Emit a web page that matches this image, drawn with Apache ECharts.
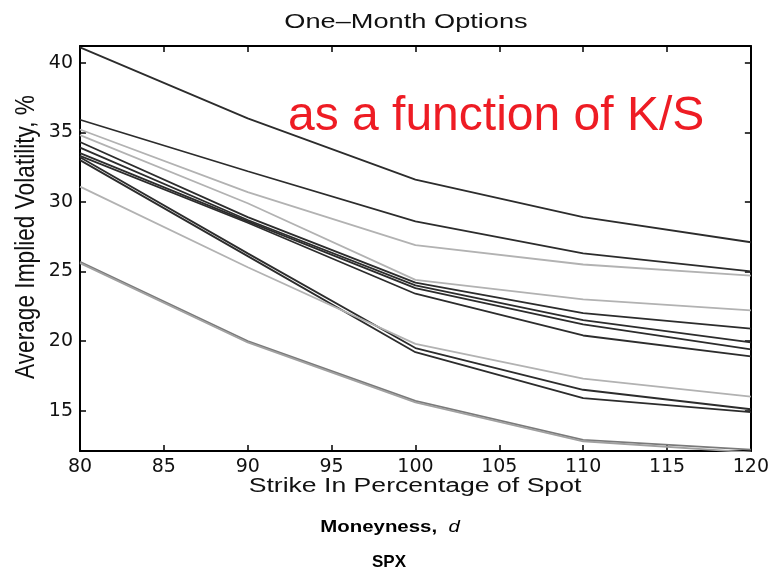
<!DOCTYPE html>
<html>
<head>
<meta charset="utf-8">
<title>One–Month Options</title>
<script src="https://cdn.jsdelivr.net/npm/echarts@6/dist/echarts.min.js"></script>
<style>
  html, body { margin: 0; padding: 0; background: #ffffff; }
  #chart { width: 772px; height: 572px; }
</style>
</head>
<body>
<div id="chart"></div>
<script>
// Strike levels (percentage of spot) and tick values
const strikes = [80, 90, 100, 110, 120];
const volTicks = [15, 20, 25, 30, 35, 40];

// Average implied volatility (%) for each one-month smile
const smileDark1 = [41.1, 36.0, 31.6, 28.9, 27.1];
const smileDark2 = [35.9, 32.2, 28.6, 26.3, 25.0];
const smileLight1 = [35.2, 30.7, 26.9, 25.5, 24.7];
const smileLight2 = [34.8, 29.9, 24.4, 23.0, 22.2];
const smileDark3 = [34.3, 28.9, 24.2, 22.0, 20.9];
const smileDark4 = [33.9, 28.7, 24.0, 21.5, 19.9];
const smileDark5 = [33.5, 28.6, 23.8, 21.2, 19.4];
const smileDark6 = [33.3, 28.5, 23.4, 20.4, 18.9];
const smileDark7 = [33.2, 26.3, 19.5, 16.5, 15.1];
const smileDark8 = [33.0, 26.1, 19.2, 15.9, 14.9];
const smileLight3 = [31.1, 25.3, 19.8, 17.3, 16.0];
const smileGrey1 = [25.7, 20.0, 15.7, 12.9, 12.2];
const smileGrey2 = [25.6, 19.9, 15.6, 12.8, 12.0];

const DARK = '#2c2c2c';
const LIGHT = '#b2b2b2';

const smiles = [
  { name: 'd1', values: smileDark1, color: DARK },
  { name: 'd2', values: smileDark2, color: DARK },
  { name: 'l1', values: smileLight1, color: LIGHT },
  { name: 'l2', values: smileLight2, color: LIGHT },
  { name: 'd3', values: smileDark3, color: DARK },
  { name: 'd4', values: smileDark4, color: DARK },
  { name: 'd5', values: smileDark5, color: DARK },
  { name: 'd6', values: smileDark6, color: DARK },
  { name: 'd7', values: smileDark7, color: DARK },
  { name: 'd8', values: smileDark8, color: DARK },
  { name: 'l3', values: smileLight3, color: LIGHT },
  { name: 'g1', values: smileGrey1, color: '#7a7a7a' },
  { name: 'g2', values: smileGrey2, color: '#a0a0a0' }
];

const chart = echarts.init(document.getElementById('chart'), null, { renderer: 'canvas' });

const frameLine = { show: true, onZero: false, lineStyle: { color: '#000', width: 2 } };
const innerTick = { show: true, inside: true, length: 6, lineStyle: { color: '#000', width: 1.5 } };

const series = smiles.map(s => ({
  name: s.name,
  type: 'line',
  xAxisIndex: 0,
  yAxisIndex: 0,
  data: strikes.map((k, i) => [k, s.values[i]]),
  symbol: 'none',
  smooth: false,
  lineStyle: { color: s.color, width: 1.8 },
  emphasis: { disabled: true },
  z: 2
}));

chart.setOption({
  animation: false,
  backgroundColor: '#ffffff',
  grid: { left: 80, right: 21, top: 46, bottom: 121, containLabel: false },
  xAxis: [
    {
      type: 'value', position: 'bottom', min: 80, max: 120, interval: 5,
      axisLine: frameLine, axisTick: innerTick,
      axisLabel: { fontFamily: 'DejaVu Sans', fontSize: 19, color: '#111', margin: 7 },
      splitLine: { show: false }
    },
    {
      type: 'value', position: 'top', min: 80, max: 120, interval: 5,
      axisLine: frameLine, axisTick: innerTick,
      axisLabel: { show: false }, splitLine: { show: false }
    }
  ],
  yAxis: [
    {
      type: 'value', position: 'left', min: 12.1, max: 41.2,
      axisLine: frameLine,
      axisTick: Object.assign({}, innerTick, { customValues: volTicks }),
      axisLabel: { customValues: volTicks, fontFamily: 'DejaVu Sans', fontSize: 19, color: '#111', margin: 7 },
      splitLine: { show: false }
    },
    {
      type: 'value', position: 'right', min: 12.1, max: 41.2,
      axisLine: frameLine,
      axisTick: Object.assign({}, innerTick, { customValues: volTicks }),
      axisLabel: { show: false }, splitLine: { show: false }
    }
  ],
  series: series,
  graphic: [
    {
      type: 'text', x: 406, y: 22, scaleX: 1.36, silent: true,
      style: { text: 'One–Month Options', fill: '#111', font: '20px "Liberation Sans", Arial, sans-serif', align: 'center', verticalAlign: 'middle' }
    },
    {
      type: 'text', x: 26, y: 237, rotation: Math.PI / 2, scaleX: 1.08, scaleY: 1.3, silent: true,
      style: { text: 'Average Implied Volatility, %', fill: '#111', font: '21px "Liberation Sans", Arial, sans-serif', align: 'center', verticalAlign: 'middle' }
    },
    {
      type: 'text', x: 415, y: 486, scaleX: 1.33, silent: true,
      style: { text: 'Strike In Percentage of Spot', fill: '#111', font: '20px "Liberation Sans", Arial, sans-serif', align: 'center', verticalAlign: 'middle' }
    },
    {
      type: 'text', x: 390, y: 527, scaleX: 1.2, silent: true,
      style: {
        text: '{n|Moneyness,  }{i|d}',
        align: 'center', verticalAlign: 'middle',
        rich: {
          n: { fill: '#000', font: 'bold 17px "Liberation Sans", Arial, sans-serif' },
          i: { fill: '#000', font: 'italic 17px "Liberation Sans", Arial, sans-serif' }
        }
      }
    },
    {
      type: 'text', x: 389, y: 562, silent: true,
      style: { text: 'SPX', fill: '#000', font: 'bold 17px "Liberation Sans", Arial, sans-serif', align: 'center', verticalAlign: 'middle' }
    },
    {
      type: 'text', x: 288, y: 117, silent: true, z: 10,
      style: { text: 'as a function of K/S', fill: '#ee1c24', font: '48px "Liberation Sans", Arial, sans-serif', align: 'left', verticalAlign: 'middle' }
    }
  ]
});
</script>
</body>
</html>
